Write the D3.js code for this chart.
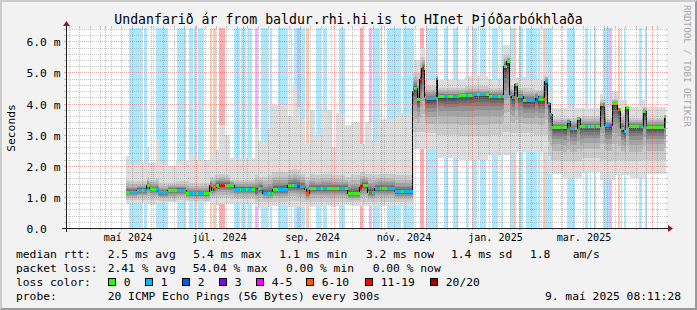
<!DOCTYPE html>
<html><head><meta charset="utf-8">
<script src="https://cdn.jsdelivr.net/npm/d3@7"></script>
<style>
html,body{margin:0;padding:0;background:#f2f2f2;}
svg{display:block;}
text{font-family:"DejaVu Sans Mono",monospace;fill:#000;}
</style></head><body>
<svg id="c" width="697" height="310"></svg>
<script>
// ================= DATA =================
const END = "2025-05-09T08:11:28Z";
const SPAN_DAYS = 400;
const DAY0 = "2024-05-01T00:00:00Z"; // all day offsets below count from this date

// median RTT (ms), step values starting at each day offset
const medianDay = [13.5,21,27.5,29.5,31,35,36,41.5,47.5,54,69.5,71,72,74,86,99.5,101.5,105,111.5,121.5,128,133,134,136,161.5,169.5,171,175,179.5,193,205,206,208,209.5,211,213,214,221,221.5,226,236,246,256,265.5,267.5,269.5,271,273,275,278.5,286.5,288.5,293,295,296.5,298,308,310,314.5,316.5,330,333,338,341.5,343.5,345.5,347,349,358.5,360.5,372.5];
const medianMs = [1.15,1.22,1.36,1.28,1.24,1.17,1.14,1.22,1.22,1.10,1.38,1.20,1.30,1.38,1.25,1.20,1.28,1.12,1.24,1.36,1.34,1.25,1.10,1.27,1.12,1.30,1.38,1.15,1.27,1.17,4.40,4.50,4.12,4.77,5.14,4.20,4.15,4.80,4.23,4.22,4.26,4.28,4.24,5.20,5.36,4.30,4.20,4.60,4.22,4.09,4.23,4.12,4.71,4.00,3.64,3.23,3.42,3.20,3.52,3.26,3.96,3.28,4.00,3.80,3.20,3.10,3.86,3.25,3.74,3.24,3.60];

// smoke envelopes (ms): fastest / slowest ping, and inner envelope
const smokeDay = [13.5,16,27.5,29,34,36,39.5,40,47,56,59.5,69.5,70,73,76,80,83,99.5,101.5,108.5,111,121.5,125,127.5,129.5,133,136.5,139.5,140,144.5,151,154,159.5,164,170,173,177.5,180,181.5,193,205,209.5,213,221,222,236,240,255,265,270,274,286,292,295,297,305,318,330,334,338,340,342,348,350,358,361];
const smokeLow = [0.78,0.80,0.78,0.75,0.78,0.80,0.78,0.82,0.82,0.85,0.82,0.82,0.76,0.74,0.76,0.78,0.76,0.68,0.65,0.68,0.70,0.68,0.66,0.68,0.68,0.72,0.68,0.68,0.72,0.72,0.68,0.72,0.74,0.72,0.70,0.72,0.74,0.70,0.70,0.70,2.55,2.55,2.55,2.25,2.25,2.20,2.20,2.35,2.35,2.35,2.45,2.45,2.45,1.75,1.75,1.60,1.80,1.55,1.55,1.55,1.70,1.70,1.70,1.60,1.60,1.75];
const smokeHigh = [2.30,2.05,2.60,2.10,2.85,2.15,2.00,2.00,2.15,2.35,2.20,2.35,2.35,2.50,3.30,3.00,2.25,3.20,2.80,3.20,3.95,3.60,4.60,3.90,3.50,2.70,3.80,3.00,3.00,3.80,2.60,3.70,3.30,3.40,2.70,3.40,2.80,2.80,3.50,3.70,5.40,5.80,4.80,5.20,4.75,4.75,4.90,4.80,5.90,4.85,4.85,4.75,5.40,4.40,3.85,3.85,3.85,4.30,3.90,4.40,4.40,4.10,3.90,3.90,4.10,3.90];
const smokeLow2 = [0.90,0.90,0.90,0.90,0.90,0.88,0.88,0.88,0.90,0.88,0.88,0.92,0.92,0.95,0.95,0.95,0.92,0.85,0.85,0.85,0.85,0.88,0.88,0.88,0.85,0.82,0.85,0.85,0.85,0.85,0.85,0.85,0.82,0.82,0.85,0.85,0.85,0.85,0.85,0.82,3.10,3.10,3.05,3.00,3.00,2.95,2.95,3.00,3.10,3.05,3.05,3.00,3.00,2.30,2.20,2.15,2.25,2.20,2.15,2.20,2.20,2.20,2.15,2.15,2.20,2.20];
const smokeHigh2 = [1.55,1.50,1.65,1.55,1.60,1.45,1.45,1.45,1.50,1.45,1.45,1.65,1.65,1.70,1.75,1.70,1.55,1.70,1.65,1.70,1.80,1.85,1.90,1.85,1.75,1.65,1.75,1.70,1.70,1.75,1.70,1.70,1.65,1.70,1.80,1.75,1.70,1.70,1.75,1.70,5.00,5.50,4.55,4.90,4.50,4.50,4.55,4.50,5.55,4.55,4.50,4.45,4.90,4.00,3.55,3.55,3.60,4.10,3.55,4.15,4.15,3.70,3.55,3.55,3.90,3.55];

// packet-loss periods (class index into lossLabels)
const lossFrom  = [16,25.5,34,47.5,56,59,61.5,69.5,72,76,85.5,90.5,95,100,103.5,110,115,123.5,125.5,128,130,134,140.5,145,156,170,176,178.5,183.5,187.5,198.5,210,214,226,231.5,240.5,244.5,250,257.5,264,269.5,272,276,280.5,288.5,291.5,294,308,319.5,323,325.5,331.5,336,341.5,343.5,345.5,356,360];
const lossTo    = [24.5,28,41.5,54,58.5,60.5,66,71,74,80,89.5,94,97.5,101.5,108.5,111,121.5,124.5,127.5,129.5,133,136,144,147.5,159.5,172,178,183,184.5,197,205.5,212.5,221.5,228.5,235,241.5,247.5,254,261.5,265,271.5,274,278.5,287.5,289.5,294,297.5,313,321.5,324,327,335.5,337.5,343,344.5,346.5,357.5,361];
const lossClass = [1,1,1,1,1,1,1,5,5,6,1,1,1,4,1,1,1,1,1,2,1,5,1,1,1,6,4,1,1,1,1,6,1,1,1,1,1,1,1,1,1,5,1,1,1,5,1,1,1,1,1,1,4,5,1,1,1,1];

const lossLabels = ["0","1","2","3","4-5","6-10","11-19","20/20"];
const lossColors = ["#26ff00","#00b8ff","#0059ff","#7e00ff","#ff00ff","#ff5500","#ff0000","#a10000"];

const yTickValues = [0,1,2,3,4,5,6];
const yTickLabels = ["0.0  ","1.0 m","2.0 m","3.0 m","4.0 m","5.0 m","6.0 m"];
const xTickLabels = ["maí 2024","júl. 2024","sep. 2024","nóv. 2024","jan. 2025","mar. 2025"];

const title = "Undanfarið ár from baldur.rhi.hi.is to HInet Þjóðarbókhlaða";
const rttStats = ["2.5 ms avg","5.4 ms max","1.1 ms min","3.2 ms now","1.4 ms sd","1.8","am/s"];
const lossStats = ["2.41 % avg","54.04 % max","0.00 % min","0.00 % now"];
const probeText = "20 ICMP Echo Pings (56 Bytes) every 300s";
const stampText = "9. maí 2025 08:11:28";

// ================= LAYOUT =================
const W = 697, H = 310;
const X0 = 66, X1 = 666, Y0 = 28, Y1 = 228;
const rowY = [258.3, 272.1, 285.9, 299.7];
const rttX = [107.7,193.3,279.3,366,451,530,572.7];
const lossStatX = [107.7,192.7,286,372.7];
const swatchX = [108.5,145.5,182.5,219.5,256.5,306.5,365.5,430.5];
const FS = 11.3;

const svg = d3.select("#c");
const endT = new Date(END);
const startT = d3.utcDay.offset(endT, -SPAN_DAYS);
const x = d3.scaleUtc().domain([startT, endT]).range([X0 - 0.5, X1 - 0.5]);
const y = d3.scaleLinear().domain([0, 200 / 31.1]).range([Y1, Y0]);
const day0 = new Date(DAY0);
const xd = d => x(new Date(day0.getTime() + d * 864e5));

// background + shading frame
svg.append("rect").attr("width", W).attr("height", H).attr("fill", "#f2f2f2");
svg.append("path").attr("d", `M0,${H}L0,0L${W},0L${W-2},2L2,2L2,${H-2}Z`).attr("fill", "#cbcbcb");
svg.append("path").attr("d", `M${W},0L${W},${H}L0,${H}L2,${H-2}L${W-2},${H-2}L${W-2},2Z`).attr("fill", "#999999");
svg.append("rect").attr("x", X0).attr("y", Y0).attr("width", X1 - X0).attr("height", Y1 - Y0).attr("fill", "#ffffff");

const g = svg.append("g").attr("shape-rendering", "crispEdges");

// loss background stripes
g.append("g").selectAll("rect").data(lossFrom.map((f, i) => ({f, t: lossTo[i], c: lossClass[i]})))
  .join("rect")
  .attr("x", d => xd(d.f)).attr("width", d => xd(d.t) - xd(d.f))
  .attr("y", Y0).attr("height", Y1 - Y0)
  .attr("fill", d => lossColors[d.c]).attr("fill-opacity", 0.33);

// merged sample grid
const endDay = (endT - day0) / 864e5;
const gridDays = Array.from(new Set([...medianDay, ...smokeDay, ...lossFrom, ...lossTo]))
  .filter(d => d >= medianDay[0] && d < endDay).sort((a, b) => a - b);
gridDays.push(endDay);
const stepAt = (days, vals, d) => vals[Math.max(0, d3.bisectRight(days, d) - 1)];
const classAt = d => { for (let i = 0; i < lossFrom.length; i++) if (d >= lossFrom[i] && d < lossTo[i]) return lossClass[i]; return 0; };
const rows = gridDays.map(d => {
  const med = stepAt(medianDay, medianMs, d);
  return {
    d, med,
    lo: stepAt(smokeDay, smokeLow, d), hi: stepAt(smokeDay, smokeHigh, d),
    lo2: Math.min(stepAt(smokeDay, smokeLow2, d), med), hi2: Math.max(stepAt(smokeDay, smokeHigh2, d), med),
    c: classAt(d)
  };
});

// smoke layers (smokeping style grey levels)
const inner = [1, 1, 0.72, 0.52, 0.37, 0.26, 0.18, 0.11, 0.06, 0.025];
for (let k = 0; k < 10; k++) {
  const grey = Math.floor(190 / 10 * (10 - (k + 1))) + 50;
  const col = d3.rgb(grey, grey, grey).formatHex();
  const area = d3.area().curve(d3.curveStepAfter).x(r => xd(r.d));
  if (k === 0) area.y0(r => y(r.lo)).y1(r => y(r.hi));
  else if (k === 1) area.y0(r => y(r.lo2)).y1(r => y(r.hi2));
  else area.y0(r => y(r.med - (r.med - r.lo2) * inner[k])).y1(r => y(r.med + (r.hi2 - r.med) * inner[k]));
  g.append("path").attr("d", area(rows)).attr("fill", col);
}

// median line
g.append("path").attr("d", d3.line().curve(d3.curveStepAfter).x(r => xd(r.d)).y(r => y(r.med))(rows))
  .attr("fill", "none").attr("stroke", "#000").attr("stroke-width", 1);
g.append("g").selectAll("rect").data(rows.slice(0, -1).map((r, i) => ({r, n: rows[i + 1]})))
  .join("rect")
  .attr("x", d => xd(d.r.d)).attr("width", d => xd(d.n.d) - xd(d.r.d))
  .attr("y", d => y(d.r.med) - 1.5).attr("height", 3)
  .attr("fill", d => lossColors[d.r.c]);

// grid (on top)
const gridG = svg.append("g").attr("shape-rendering", "crispEdges");
const minorCol = "rgba(143,143,143,0.5)", majorCol = "rgba(230,80,80,0.5)";
for (let i = 1; i * 0.2 < y.domain()[1]; i++) {
  if (i % 5 === 0) continue;
  const yy = Math.round(y(i * 0.2)) + 0.5;
  gridG.append("line").attr("x1", X0).attr("x2", X1).attr("y1", yy).attr("y2", yy)
    .attr("stroke", minorCol).attr("stroke-dasharray", "1,1");
  gridG.append("line").attr("x1", X0 - 2).attr("x2", X0).attr("y1", yy).attr("y2", yy).attr("stroke", minorCol);
  gridG.append("line").attr("x1", X1).attr("x2", X1 + 2).attr("y1", yy).attr("y2", yy).attr("stroke", minorCol);
}
const months = d3.utcMonth.range(startT, endT);
const monthSet = new Set(months.map(m => +m));
d3.utcSunday.range(startT, endT).filter(t => !monthSet.has(+t)).forEach(t => {
  const xx = Math.floor(x(t)) + 0.5;
  gridG.append("line").attr("x1", xx).attr("x2", xx).attr("y1", Y0).attr("y2", Y1)
    .attr("stroke", minorCol).attr("stroke-dasharray", "1,1");
  gridG.append("line").attr("x1", xx).attr("x2", xx).attr("y1", Y1).attr("y2", Y1 + 2).attr("stroke", minorCol);
  gridG.append("line").attr("x1", xx).attr("x2", xx).attr("y1", Y0 - 2).attr("y2", Y0).attr("stroke", minorCol);
});
months.forEach(t => {
  const xx = Math.floor(x(t)) + 0.5;
  gridG.append("line").attr("x1", xx).attr("x2", xx).attr("y1", Y0).attr("y2", Y1)
    .attr("stroke", majorCol).attr("stroke-dasharray", "1,1");
  gridG.append("line").attr("x1", xx).attr("x2", xx).attr("y1", Y1).attr("y2", Y1 + 2).attr("stroke", majorCol);
  gridG.append("line").attr("x1", xx).attr("x2", xx).attr("y1", Y0 - 2).attr("y2", Y0).attr("stroke", majorCol);
});
yTickValues.forEach((v, i) => {
  const yy = Math.round(y(v)) + 0.5;
  if (v > 0) {
    gridG.append("line").attr("x1", X0).attr("x2", X1).attr("y1", yy).attr("y2", yy)
      .attr("stroke", majorCol).attr("stroke-dasharray", "1,1");
    gridG.append("line").attr("x1", X1).attr("x2", X1 + 2).attr("y1", yy).attr("y2", yy).attr("stroke", majorCol);
  }
  gridG.append("line").attr("x1", X0 - 2).attr("x2", X0).attr("y1", yy).attr("y2", yy).attr("stroke", majorCol);
  svg.append("text").attr("x", 60.5).attr("y", yy + 4).attr("text-anchor", "end")
    .style("white-space", "pre").attr("font-size", FS).text(yTickLabels[i]);
});

// axes
const axG = svg.append("g").attr("shape-rendering", "crispEdges");
axG.append("line").attr("x1", X0 - 4).attr("x2", X1 + 4).attr("y1", Y1 + 0.5).attr("y2", Y1 + 0.5).attr("stroke", "#202020");
axG.append("line").attr("x1", X0 + 0.5).attr("x2", X0 + 0.5).attr("y1", Y1 + 4).attr("y2", Y0 - 4).attr("stroke", "#202020");
svg.append("path").attr("d", `M${X1 + 2},${Y1 - 3}L${X1 + 2},${Y1 + 4}L${X1 + 7},${Y1 + 0.5}Z`).attr("fill", "#8b1f1f");
svg.append("path").attr("d", `M${X0 - 3},${Y0 - 2}L${X0 + 4},${Y0 - 2}L${X0 + 0.5},${Y0 - 7}Z`).attr("fill", "#8b1f1f");

// x tick labels: every second month, centred mid-month
d3.utcMonth.every(2).range(months[0], endT).forEach((t, i) => {
  if (i >= xTickLabels.length) return;
  svg.append("text").attr("x", x(d3.utcDay.offset(t, 15))).attr("y", 241)
    .attr("text-anchor", "middle").attr("font-size", 10.1).text(xTickLabels[i]);
});

// titles
svg.append("text").attr("x", W / 2).attr("y", 24).attr("text-anchor", "middle").attr("font-size", 13.2).text(title);
svg.append("text").attr("transform", `translate(15,${(Y0 + Y1) / 2}) rotate(-90)`).attr("text-anchor", "middle")
  .attr("font-size", FS).text("Seconds");
svg.append("text").attr("transform", "translate(684,5) rotate(90)").attr("font-size", 9.2)
  .style("fill", "#a8a8a8").text("RRDTOOL / TOBI OETIKER");

// legend
svg.append("text").attr("x", 16).attr("y", rowY[0]).attr("font-size", FS).text("median rtt:");
rttStats.forEach((s, i) => svg.append("text").attr("x", rttX[i]).attr("y", rowY[0]).attr("font-size", FS).text(s));
svg.append("text").attr("x", 16).attr("y", rowY[1]).attr("font-size", FS).text("packet loss:");
lossStats.forEach((s, i) => svg.append("text").attr("x", lossStatX[i]).attr("y", rowY[1]).attr("font-size", FS).text(s));
svg.append("text").attr("x", 16).attr("y", rowY[2]).attr("font-size", FS).text("loss color:");
lossLabels.forEach((s, i) => {
  svg.append("rect").attr("x", swatchX[i]).attr("y", rowY[2] - 7.4).attr("width", 7).attr("height", 7)
    .attr("fill", lossColors[i]).attr("stroke", "#000").attr("stroke-width", 1).attr("shape-rendering", "crispEdges");
  svg.append("text").attr("x", swatchX[i] + 15.3).attr("y", rowY[2]).attr("font-size", FS).text(s);
});
svg.append("text").attr("x", 16).attr("y", rowY[3]).attr("font-size", FS).text("probe:");
svg.append("text").attr("x", 107.7).attr("y", rowY[3]).attr("font-size", FS).text(probeText);
svg.append("text").attr("x", 681).attr("y", rowY[3]).attr("text-anchor", "end").attr("font-size", FS).text(stampText);
</script>
</body></html>
